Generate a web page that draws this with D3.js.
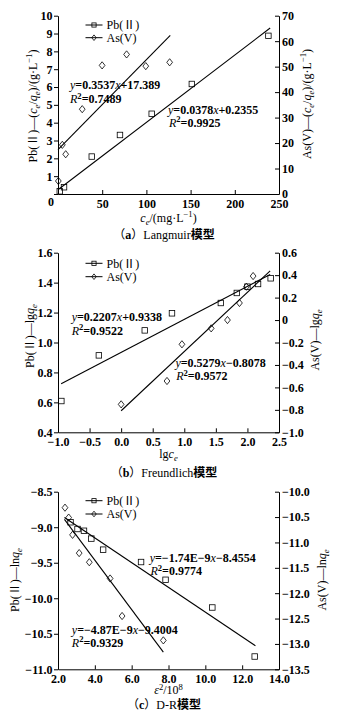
<!DOCTYPE html>
<html>
<head>
<meta charset="utf-8">
<script src="https://cdn.jsdelivr.net/npm/d3@7"></script>
<style>
  html, body { margin: 0; padding: 0; background: #fff; }
  svg { display: block; }
  text { font-family: "Liberation Serif", "Times New Roman", "Noto Sans CJK SC", serif; fill: #000; }
</style>
</head>
<body>
<svg id="chart" width="348" height="713"></svg>
<script>
// ---------- (a) Langmuir ----------
const langPbX = [2, 6.8, 38.2, 70.1, 106, 151.4, 238];
const langPbY = [0.15, 0.38, 2.1, 3.31, 4.5, 6.17, 8.87];
const langAsX = [0.4, 4.9, 8.7, 27.4, 49.9, 77.6, 99.3, 126.3];
const langAsY = [5.1, 19.3, 15.6, 33.3, 50.5, 54.8, 50.2, 51.7];
const langPbFit = [0.0378, 0.2355];      // slope, intercept (left axis)
const langAsFit = [0.3537, 17.389];      // slope, intercept (right axis)
const langPbFitRange = [0, 240];
const langAsFitRange = [0, 127];
const langXTicks = [0, 50, 100, 150, 200, 250];
const langYLTicks = [0, 1, 2, 3, 4, 5, 6, 7, 8, 9, 10];
const langYRTicks = [0, 10, 20, 30, 40, 50, 60, 70];

// ---------- (b) Freundlich ----------
const frPbX = [-0.947, -0.353, 0.374, 0.805, 1.579, 1.832, 2.0, 2.168, 2.368];
const frPbY = [0.609, 0.914, 1.081, 1.195, 1.264, 1.331, 1.373, 1.391, 1.429];
const frAsX = [0, 0.726, 0.963, 1.426, 1.684, 1.874, 1.984, 2.09];
const frAsY = [-0.751, -0.543, -0.216, -0.074, 0.0, 0.152, 0.297, 0.392];
const frPbFit = [0.2207, 0.9338];
const frAsFit = [0.5279, -0.8078];
const frPbFitRange = [-0.95, 2.36];
const frAsFitRange = [0, 2.36];
const frXTicks = [-1.0, -0.5, 0, 0.5, 1.0, 1.5, 2.0, 2.5];
const frYLTicks = [0.4, 0.6, 0.8, 1.0, 1.2, 1.4, 1.6];
const frYRTicks = [-1.0, -0.8, -0.6, -0.4, -0.2, 0, 0.2, 0.4, 0.6];

// ---------- (c) D-R (x in units of 10^8) ----------
const drPbX = [2.68, 3.06, 3.41, 3.81, 4.45, 6.51, 7.84, 10.38, 12.68];
const drPbY = [-8.93, -9.025, -9.05, -9.16, -9.316, -9.49, -9.74, -10.13, -10.82];
const drAsX = [2.38, 2.58, 2.79, 3.15, 3.70, 4.83, 5.48, 7.72];
const drAsY = [-10.315, -10.51, -10.85, -11.21, -11.39, -11.71, -12.45, -12.93];
const drPbFit = [-1.74e-9, -8.4554];
const drAsFit = [-4.87e-9, -9.4004];
const drXUnit = 1e8;
const drPbFitRange = [2.35, 12.72];
const drAsFitRange = [2.35, 7.72];
const drXTicks = [2, 4, 6, 8, 10, 12, 14];
const drYLTicks = [-8.5, -9.0, -9.5, -10.0, -10.5, -11.0];
const drYRTicks = [-10.0, -10.5, -11.0, -11.5, -12.0, -12.5, -13.0, -13.5];

const legendNames = ["Pb(Ⅱ)", "As(V)"];

const svg = d3.select("#chart");
svg.append("rect").attr("width", 348).attr("height", 713).attr("fill", "#fff");

const PL = 58, PR = 279;
const FONT = 12;

// Writes a sequence of styled runs into a text element.
function rich(sel, parts) {
  let shift = 0;
  parts.forEach(p => {
    const t = sel.append("tspan").text(p.t);
    let target = 0;
    if (p.sub) target = 3;
    if (p.sup) target = -4.5;
    if (target !== shift) { t.attr("dy", target - shift); shift = target; }
    if (p.sub || p.sup) t.attr("font-size", FONT * 0.72);
    if (p.i) t.attr("font-style", "italic");
    if (p.b) t.attr("font-weight", "bold");
    if (p.n) t.attr("font-weight", "normal");
  });
  return sel;
}

function squareMark(g, cx, cy, s) {
  g.append("rect").attr("x", cx - s / 2).attr("y", cy - s / 2)
    .attr("width", s).attr("height", s)
    .attr("fill", "none").attr("stroke", "#000").attr("stroke-width", 0.8);
}
function diamondMark(g, cx, cy, r) {
  g.append("path")
    .attr("d", `M${cx},${cy - r}L${cx + r * 0.8},${cy}L${cx},${cy + r}L${cx - r * 0.8},${cy}Z`)
    .attr("fill", "none").attr("stroke", "#000").attr("stroke-width", 0.8);
}

function styleAxis(ax) {
  ax.attr("font-family", null).attr("font-size", null);
  ax.selectAll("path.domain").attr("stroke-width", 1);
  ax.selectAll(".tick line").attr("stroke-width", 1);
  ax.selectAll("text").attr("font-size", FONT).attr("font-weight", "bold");
}

function drawPanel(o) {
  const g = svg.append("g");
  const x = d3.scaleLinear().domain(o.xDomain).range([PL, PR]);
  const yL = d3.scaleLinear().domain(o.yLDomain).range([o.bottom, o.top]);
  const yR = d3.scaleLinear().domain(o.yRDomain).range([o.bottom, o.top]);

  const axB = g.append("g").attr("transform", `translate(0,${o.bottom})`)
    .call(d3.axisBottom(x).tickValues(o.xTicks).tickFormat(o.xFmt)
      .tickSizeInner(-4).tickSizeOuter(0).tickPadding(5));
  styleAxis(axB);

  const axL = g.append("g").attr("transform", `translate(${PL},0)`)
    .call(d3.axisLeft(yL).tickValues(o.yLTicks).tickFormat(o.yLFmt)
      .tickSizeInner(4).tickSizeOuter(0).tickPadding(1.5));
  styleAxis(axL);

  const axR = g.append("g").attr("transform", `translate(${PR},0)`)
    .call(d3.axisRight(yR).tickValues(o.yRTicks).tickFormat(o.yRFmt)
      .tickSizeInner(-4).tickSizeOuter(0).tickPadding(3));
  styleAxis(axR);

  if (o.after) o.after(axB, axL, axR);

  // fitted lines
  const line = d3.line().x(d => x(d[0])).y(d => d[1]);
  const fitPts = (fit, range, ys, unit) =>
    range.map(v => [v, ys(fit[0] * v * unit + fit[1])]);
  g.append("path").attr("d", line(fitPts(o.pbFit, o.pbRange, yL, o.unit)))
    .attr("fill", "none").attr("stroke", "#000").attr("stroke-width", 1.1);
  g.append("path").attr("d", line(fitPts(o.asFit, o.asRange, yR, o.unit)))
    .attr("fill", "none").attr("stroke", "#000").attr("stroke-width", 1.1);

  // points
  o.pbX.forEach((v, i) => squareMark(g, x(v), yL(o.pbY[i]), 5.5));
  o.asX.forEach((v, i) => diamondMark(g, x(v), yR(o.asY[i]), 3.6));

  // legend
  const lx0 = 85.5, lx1 = 102.5, lm = (lx0 + lx1) / 2;
  o.legendY.forEach((ly, i) => {
    g.append("line").attr("x1", lx0).attr("x2", lx1).attr("y1", ly).attr("y2", ly)
      .attr("stroke", "#000").attr("stroke-width", 1);
    if (i === 0) squareMark(g, lm, ly, 4.2); else diamondMark(g, lm, ly, 2.8);
    g.append("text").attr("x", 106.5).attr("y", ly).attr("dy", "0.35em")
      .attr("font-size", FONT).text(legendNames[i]);
  });

  // equations, positioned in data space
  o.eqs.forEach(e => {
    const yy = e.axis === "L" ? yL(e.y) : yR(e.y);
    rich(g.append("text").attr("x", x(e.x)).attr("y", yy).attr("font-size", FONT)
      .attr("font-weight", "bold"), e.parts);
  });

  // axis titles
  rich(g.append("text").attr("x", (PL + PR) / 2).attr("y", o.xTitleY)
    .attr("text-anchor", "middle").attr("font-size", FONT), o.xTitle);
  rich(g.append("text").attr("transform", `translate(${o.lTitle[0]},${o.lTitle[1]}) rotate(-90)`)
    .attr("text-anchor", "middle").attr("dy", "0.35em").attr("font-size", FONT), o.yLTitle);
  rich(g.append("text").attr("transform", `translate(${o.rTitle[0]},${o.rTitle[1]}) rotate(-90)`)
    .attr("text-anchor", "middle").attr("dy", "0.35em").attr("font-size", FONT), o.yRTitle);

  // caption
  const cap = g.append("text").attr("x", 164).attr("y", o.capY)
    .attr("text-anchor", "middle").attr("font-size", FONT);
  cap.append("tspan").text("（");
  cap.append("tspan").attr("font-weight", "bold").text(o.capLetter);
  cap.append("tspan").text("）" + o.capName);
  cap.append("tspan").attr("font-weight", "bold")
    .attr("font-family", "'Noto Sans CJK SC', sans-serif").text("模型");
}

const eqParts = (a, b) => [
  { t: "y", i: true, n: true }, { t: "=" + a }, { t: "x", i: true, n: true }, { t: b }
];
const r2Parts = v => [
  { t: "R", i: true, n: true }, { t: "2", sup: true }, { t: "=" + v }
];
const fmt1 = d3.format(".1f");

// (a)
drawPanel({
  top: 15.7, bottom: 194,
  xDomain: [0, 250], yLDomain: [0, 10], yRDomain: [0, 70],
  xTicks: langXTicks, yLTicks: langYLTicks, yRTicks: langYRTicks,
  xFmt: d => d === 0 ? "" : d3.format("d")(d),
  yLFmt: d3.format("d"), yRFmt: d3.format("d"),
  after: (axB, axL) => {
    axL.selectAll(".tick").filter(d => d === 0).select("text")
      .attr("transform", "translate(1.5,7.5)");
  },
  pbX: langPbX, pbY: langPbY, asX: langAsX, asY: langAsY,
  pbFit: langPbFit, asFit: langAsFit, pbRange: langPbFitRange, asRange: langAsFitRange, unit: 1,
  legendY: [25, 37.7],
  eqs: [
    { x: 13.6, y: 5.9, axis: "L", parts: eqParts("0.3537", "+17.389") },
    { x: 13.6, y: 5.1, axis: "L", parts: r2Parts("0.7489") },
    { x: 124.4, y: 4.51, axis: "L", parts: eqParts("0.0378", "+0.2355") },
    { x: 125.5, y: 3.76, axis: "L", parts: r2Parts("0.9925") }
  ],
  xTitleY: 221.5,
  xTitle: [{ t: "c", i: true }, { t: "e", i: true, sub: true }, { t: "/(mg·L" },
           { t: "−1", sup: true }, { t: ")" }],
  lTitle: [32.3, 106],
  yLTitle: [{ t: "Pb(Ⅱ)—(" }, { t: "c", i: true }, { t: "e", i: true, sub: true }, { t: "/" },
            { t: "q", i: true }, { t: "e", i: true, sub: true }, { t: ")/(g·L" },
            { t: "−1", sup: true }, { t: ")" }],
  rTitle: [306.7, 104],
  yRTitle: [{ t: "As(V)—(" }, { t: "c", i: true }, { t: "e", i: true, sub: true }, { t: "/" },
            { t: "q", i: true }, { t: "e", i: true, sub: true }, { t: ")/(g·L" },
            { t: "−1", sup: true }, { t: ")" }],
  capY: 239, capLetter: "a", capName: "Langmuir"
});

// (b)
drawPanel({
  top: 252.7, bottom: 432.3,
  xDomain: [-1, 2.5], yLDomain: [0.4, 1.6], yRDomain: [-1.0, 0.6],
  xTicks: frXTicks, yLTicks: frYLTicks, yRTicks: frYRTicks,
  xFmt: fmt1, yLFmt: fmt1, yRFmt: d => Math.abs(d) < 1e-9 ? "0" : fmt1(d),
  pbX: frPbX, pbY: frPbY, asX: frAsX, asY: frAsY,
  pbFit: frPbFit, asFit: frAsFit, pbRange: frPbFitRange, asRange: frAsFitRange, unit: 1,
  legendY: [263.3, 276.7],
  eqs: [
    { x: -0.784, y: 1.1435, axis: "L", parts: eqParts("0.2207", "+0.9338") },
    { x: -0.784, y: 1.053, axis: "L", parts: r2Parts("0.9522") },
    { x: 0.86, y: 0.8396, axis: "L", parts: eqParts("0.5279", "−0.8078") },
    { x: 0.871, y: 0.749, axis: "L", parts: r2Parts("0.9572") }
  ],
  xTitleY: 458,
  xTitle: [{ t: "lg" }, { t: "c", i: true }, { t: "e", i: true, sub: true }],
  lTitle: [30, 336],
  yLTitle: [{ t: "Pb(Ⅱ)—lg" }, { t: "q", i: true }, { t: "e", i: true, sub: true }],
  rTitle: [315, 340],
  yRTitle: [{ t: "As(V)—lg" }, { t: "q", i: true }, { t: "e", i: true, sub: true }],
  capY: 477, capLetter: "b", capName: "Freundlich"
});

// (c)
drawPanel({
  top: 491.7, bottom: 669.3,
  xDomain: [2, 14], yLDomain: [-11.0, -8.5], yRDomain: [-13.5, -10.0],
  xTicks: drXTicks, yLTicks: drYLTicks, yRTicks: drYRTicks,
  xFmt: fmt1, yLFmt: fmt1, yRFmt: fmt1,
  pbX: drPbX, pbY: drPbY, asX: drAsX, asY: drAsY,
  pbFit: drPbFit, asFit: drAsFit, pbRange: drPbFitRange, asRange: drAsFitRange, unit: drXUnit,
  legendY: [500.7, 514],
  eqs: [
    { x: 6.98, y: -9.483, axis: "L", parts: eqParts("−1.74E−9", "−8.4554") },
    { x: 7.02, y: -9.673, axis: "L", parts: r2Parts("0.9774") },
    { x: 2.75, y: -10.503, axis: "L", parts: eqParts("−4.87E−9", "−9.4004") },
    { x: 2.75, y: -10.686, axis: "L", parts: r2Parts("0.9329") }
  ],
  xTitleY: 694,
  xTitle: [{ t: "ε", i: true }, { t: "2", sup: true }, { t: "/10" }, { t: "8", sup: true }],
  lTitle: [15, 580],
  yLTitle: [{ t: "Pb(Ⅱ)—ln" }, { t: "q", i: true }, { t: "e", i: true, sub: true }],
  rTitle: [321.7, 580],
  yRTitle: [{ t: "As(V)—ln" }, { t: "q", i: true }, { t: "e", i: true, sub: true }],
  capY: 709, capLetter: "c", capName: "D-R"
});
</script>
</body>
</html>
